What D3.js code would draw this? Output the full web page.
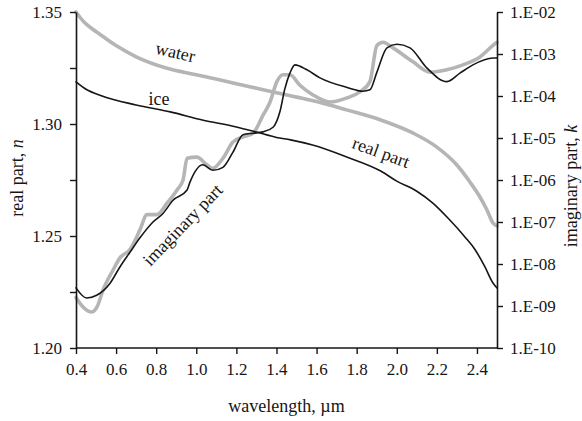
<!DOCTYPE html>
<html>
<head>
<meta charset="utf-8">
<script src="https://cdn.jsdelivr.net/npm/d3@7"></script>
<style>
  html, body { margin: 0; padding: 0; background: #fff; }
  svg { display: block; }
  svg text { font-family: 'Liberation Serif', 'Times New Roman', Tinos, 'DejaVu Serif', serif; }
</style>
</head>
<body>
<svg id="chart" width="582" height="421"></svg>
<script>
// Refractive index of water and ice, 0.4–2.5 µm
// Real part n (left, linear axis)
const waterRealWl = [0.40, 0.44, 0.48, 0.52, 0.60, 0.70, 0.85, 1.00, 1.20, 1.35, 1.50, 1.60, 1.75, 1.92, 2.08, 2.20, 2.30, 2.365, 2.415, 2.45, 2.48, 2.50];
const waterRealN  = [1.3500, 1.3455, 1.3425, 1.3400, 1.3350, 1.3300, 1.3250, 1.3220, 1.3180, 1.3150, 1.3120, 1.3100, 1.3063, 1.3018, 1.2960, 1.2897, 1.2817, 1.2741, 1.2674, 1.2616, 1.2558, 1.2545];

const iceRealWl = [0.40, 0.45, 0.53, 0.70, 0.87, 1.03, 1.20, 1.30, 1.40, 1.47, 1.58, 1.75, 1.92, 2.00, 2.10, 2.18, 2.26, 2.34, 2.39, 2.44, 2.48, 2.50];
const iceRealN  = [1.3188, 1.3155, 1.3125, 1.3085, 1.3054, 1.3018, 1.2987, 1.2964, 1.2940, 1.2929, 1.2906, 1.2853, 1.2790, 1.2745, 1.2700, 1.2647, 1.2576, 1.2496, 1.2440, 1.2362, 1.2290, 1.2268];

// Imaginary part k (right, log axis)
const waterImagWl = [0.400, 0.435, 0.480, 0.505, 0.535, 0.585, 0.619, 0.669, 0.719, 0.754, 0.804, 0.854, 0.904, 0.934, 0.954, 1.003, 1.053, 1.083, 1.133, 1.183, 1.233, 1.283, 1.333, 1.368, 1.402, 1.432, 1.467, 1.517, 1.582, 1.667, 1.752, 1.816, 1.866, 1.901, 1.931, 1.981, 2.081, 2.166, 2.250, 2.330, 2.415, 2.480, 2.500];
const waterImagK  = [1.6e-9, 9.5e-10, 7.2e-10, 9.5e-10, 2.4e-9, 7.2e-9, 1.4e-8, 2.2e-8, 6.5e-8, 1.5e-7, 1.5e-7, 2.8e-7, 5.8e-7, 1.0e-6, 3.3e-6, 3.5e-6, 2.3e-6, 1.9e-6, 3.3e-6, 8.0e-6, 1.06e-5, 1.3e-5, 3.5e-5, 7.2e-5, 2.2e-4, 3.2e-4, 3.2e-4, 1.8e-4, 1.06e-4, 7.2e-5, 9.0e-5, 1.25e-4, 2.2e-4, 1.6e-3, 1.9e-3, 1.4e-3, 6.5e-4, 3.7e-4, 4.2e-4, 5.5e-4, 8.5e-4, 1.6e-3, 1.9e-3];

const iceImagWl = [0.400, 0.453, 0.503, 0.570, 0.619, 0.669, 0.719, 0.784, 0.834, 0.884, 0.954, 0.969, 1.033, 1.083, 1.133, 1.183, 1.233, 1.283, 1.333, 1.383, 1.417, 1.442, 1.467, 1.492, 1.552, 1.617, 1.752, 1.831, 1.866, 1.901, 1.951, 2.001, 2.066, 2.151, 2.250, 2.315, 2.380, 2.480, 2.500];
const iceImagK  = [2.7e-9, 1.55e-9, 1.8e-9, 3.5e-9, 8.5e-9, 1.9e-8, 4.2e-8, 1.0e-7, 1.6e-7, 3.3e-7, 5.8e-7, 9.0e-7, 2.3e-6, 1.7e-6, 2.0e-6, 4.6e-6, 1.2e-5, 1.3e-5, 1.4e-5, 1.8e-5, 4.2e-5, 1.5e-4, 3.5e-4, 5.5e-4, 4.2e-4, 2.7e-4, 1.6e-4, 1.3e-4, 1.4e-4, 3.7e-4, 1.4e-3, 1.7e-3, 1.4e-3, 4.6e-4, 2.2e-4, 3.5e-4, 5.5e-4, 8.0e-4, 8.0e-4];

// Axis ticks
const xTicks = [0.4, 0.6, 0.8, 1.0, 1.2, 1.4, 1.6, 1.8, 2.0, 2.2, 2.4];
const nTicks = [1.20, 1.225, 1.25, 1.275, 1.30, 1.325, 1.35];
const nLabels = [1.20, 1.25, 1.30, 1.35];
const kTicks = [1e-10, 1e-9, 1e-8, 1e-7, 1e-6, 1e-5, 1e-4, 1e-3, 1e-2];

const plot = { left: 76, right: 497, top: 12, bottom: 348 };
const serif = "'Liberation Serif', 'Times New Roman', Tinos, 'DejaVu Serif', serif";

const svg = d3.select("#chart");

const x = d3.scaleLinear().domain([0.4, 2.5]).range([plot.left, plot.right]);
const yN = d3.scaleLinear().domain([1.20, 1.35]).range([plot.bottom, plot.top]);
const yK = d3.scaleLog().domain([1e-10, 1e-2]).range([plot.bottom, plot.top]);

const ink = "#161616";
const grey = "#b5b5b5";

// Curves
const lineN = d3.line().x(d => x(d[0])).y(d => yN(d[1])).curve(d3.curveMonotoneX);
const lineK = d3.line().x(d => x(d[0])).y(d => yK(d[1])).curve(d3.curveMonotoneX);

const zip = (a, b) => a.map((v, i) => [v, b[i]]);

const curves = svg.append("g").attr("fill", "none").attr("stroke-linejoin", "round").attr("stroke-linecap", "round");

curves.append("path").attr("d", lineN(zip(waterRealWl, waterRealN)))
  .attr("stroke", grey).attr("stroke-width", 3.6);
curves.append("path").attr("d", lineK(zip(waterImagWl, waterImagK)))
  .attr("stroke", grey).attr("stroke-width", 3.6);
curves.append("path").attr("d", lineN(zip(iceRealWl, iceRealN)))
  .attr("stroke", ink).attr("stroke-width", 1.6);
curves.append("path").attr("d", lineK(zip(iceImagWl, iceImagK)))
  .attr("stroke", ink).attr("stroke-width", 1.6);

// Axes
const tickFont = 17;
function styleAxis(g) {
  g.attr("font-family", serif);
  g.selectAll(".domain").attr("stroke", ink).attr("stroke-width", 1.6);
  g.selectAll(".tick line").attr("stroke", ink).attr("stroke-width", 1.4);
  g.selectAll(".tick text").attr("fill", ink)
    .attr("font-family", serif)
    .attr("font-size", tickFont);
}

const axB = svg.append("g").attr("transform", `translate(0,${plot.bottom})`)
  .call(d3.axisBottom(x).tickValues(xTicks).tickFormat(d3.format(".1f")).tickSize(6).tickSizeOuter(0).tickPadding(9));
axB.call(styleAxis);
// baseline runs all the way to the right axis
axB.select(".domain").attr("d", `M${plot.left},0H${plot.right}`);

const axL = svg.append("g").attr("transform", `translate(${plot.left},0)`)
  .call(d3.axisLeft(yN).tickValues(nTicks)
    .tickFormat(d => nLabels.some(v => Math.abs(v - d) < 1e-9) ? d3.format(".2f")(d) : "")
    .tickSize(6).tickSizeOuter(0).tickPadding(8));
axL.call(styleAxis);

const kFmt = d => "1.E-" + String(Math.round(-Math.log10(d))).padStart(2, "0");
const axR = svg.append("g").attr("transform", `translate(${plot.right},0)`)
  .call(d3.axisRight(yK).tickValues(kTicks).tickFormat(kFmt).tickSize(6).tickSizeOuter(0).tickPadding(7));
axR.call(styleAxis);

// Axis titles
const titleFont = 18;
svg.append("text")
  .attr("x", (plot.left + plot.right) / 2).attr("y", 412)
  .attr("text-anchor", "middle").attr("font-size", titleFont).attr("fill", ink)
  .attr("font-family", serif)
  .text("wavelength, \u00b5m");

const tL = svg.append("text")
  .attr("transform", "translate(23,178) rotate(-90)")
  .attr("text-anchor", "middle").attr("font-size", titleFont).attr("fill", ink)
  .attr("font-family", serif);
tL.append("tspan").text("real part, ");
tL.append("tspan").attr("font-style", "italic").text("n");

const tR = svg.append("text")
  .attr("transform", "translate(577,186) rotate(-90)")
  .attr("text-anchor", "middle").attr("font-size", titleFont).attr("fill", ink)
  .attr("font-family", serif);
tR.append("tspan").text("imaginary part, ");
tR.append("tspan").attr("font-style", "italic").text("k");

// Curve annotations
const notes = [
  { text: "water", x: 174, y: 58, rot: 13 },
  { text: "ice", x: 159, y: 105, rot: 0 },
  { text: "real part", x: 379, y: 158, rot: 20 },
  { text: "imaginary part", x: 187, y: 229, rot: -46 }
];
svg.append("g").selectAll("text").data(notes).join("text")
  .attr("transform", d => `translate(${d.x},${d.y}) rotate(${d.rot})`)
  .attr("text-anchor", "middle").attr("font-size", 18).attr("fill", ink)
  .attr("font-family", serif)
  .text(d => d.text);
</script>
</body>
</html>
